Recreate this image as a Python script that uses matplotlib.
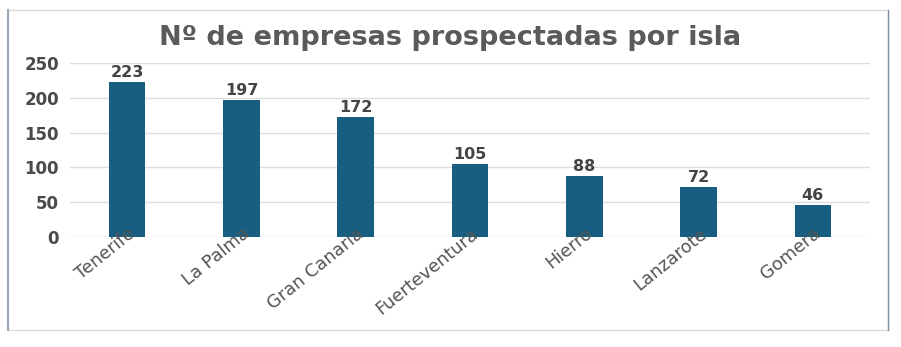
import matplotlib.pyplot as plt
import matplotlib.patches as patches

islas = ["Tenerife", "La Palma", "Gran Canaria", "Fuerteventura", "Hierro", "Lanzarote", "Gomera"]
empresas = [223, 197, 172, 105, 88, 72, 46]
yticks = [0, 50, 100, 150, 200, 250]

bar_color = "#175e80"
text_color = "#555555"

fig = plt.figure(figsize=(9.01, 3.47), dpi=100)
W, H = 901, 347
# axes placed in pixel coords: x 70..870, y 237(0)..63(250)
ax = fig.add_axes([70 / W, 1 - 237 / H, 800 / W, (237 - 63) / H])

# gridlines under the bars, tick labels drawn over them
for yv in yticks:
    ax.axhline(yv, color="#dddddd", linewidth=1, zorder=0.5)

x = range(len(islas))
ax.bar(x, empresas, width=0.32, color=bar_color, zorder=1)
for xi, v in zip(x, empresas):
    ax.text(xi, v + 3, str(v), ha="center", va="bottom", fontsize=11.5,
            fontweight="bold", color="#444444")

ax.set_xlim(-0.5, len(islas) - 0.5)
ax.set_ylim(0, 250)
ax.set_yticks(yticks)
ax.tick_params(axis="y", length=0, labelsize=12, labelcolor="#4a4a4a", pad=8)
for lbl in ax.get_yticklabels():
    lbl.set_fontweight("bold")
for s in ax.spines.values():
    s.set_visible(False)

ax.set_xticks(list(x))
ax.set_xticklabels(islas, rotation=39, ha="right", rotation_mode="anchor",
                   fontsize=12.8, color=text_color)
ax.tick_params(axis="x", length=0, pad=-9)

fig.text(0.5, 1 - 38 / H, "Nº de empresas prospectadas por isla", ha="center",
         va="center", fontsize=19.5, fontweight="bold", color="#5a5a5a")

# outer frame
fig.add_artist(patches.Rectangle((8 / W, 1 - 330 / H), 880 / W, 320 / H,
                                 transform=fig.transFigure, fill=False,
                                 edgecolor="#dcdcdc", linewidth=1))
fig.add_artist(plt.Line2D([8 / W, 8 / W], [1 - 330 / H, 1 - 10 / H],
                          transform=fig.transFigure, color="#9aa8b8", linewidth=1.5))
fig.add_artist(plt.Line2D([888 / W, 888 / W], [1 - 330 / H, 1 - 10 / H],
                          transform=fig.transFigure, color="#7f8fa3", linewidth=1))

fig.savefig("out.png", dpi=100)
